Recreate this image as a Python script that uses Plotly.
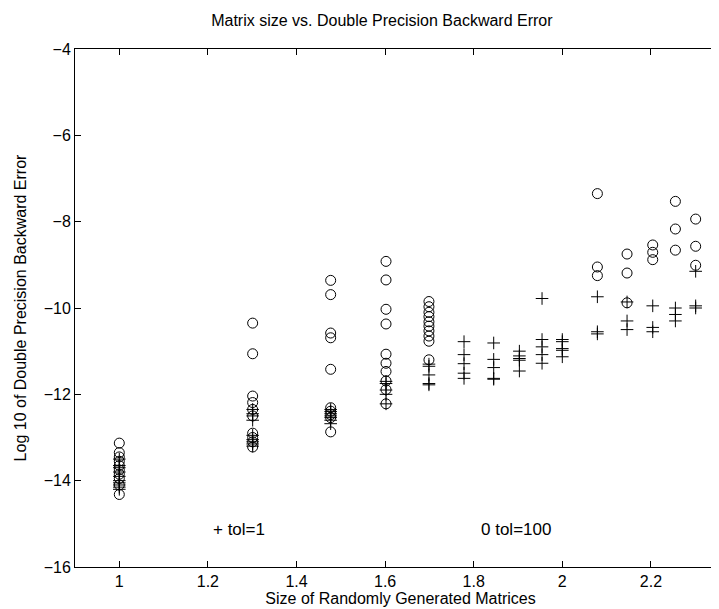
import plotly.graph_objects as go

# log10 of matrix sizes
x_sizes = [1.0, 1.30103, 1.47712, 1.60206, 1.69897, 1.77815, 1.84510, 1.90309,
           1.95424, 2.0, 2.07918, 2.14613, 2.20412, 2.25527, 2.30103]

# tol=100 (circles): log10 backward errors per size
circ_vals = {
    1.0: [-13.13, -13.35, -13.45, -13.55, -13.65, -13.75, -13.85, -13.95, -14.1, -14.32],
    1.30103: [-10.35, -11.06, -12.04, -12.19, -12.35, -12.5, -12.9, -13.0, -13.1, -13.22],
    1.47712: [-9.36, -9.69, -10.58, -10.69, -11.42, -12.31, -12.39, -12.47, -12.54, -12.87],
    1.60206: [-8.92, -9.35, -10.03, -10.37, -11.07, -11.28, -11.47, -11.69, -11.89, -12.22],
    1.69897: [-9.85, -9.97, -10.1, -10.2, -10.32, -10.42, -10.53, -10.65, -10.77, -11.2],
    2.07918: [-7.35, -9.05, -9.25],
    2.14613: [-8.75, -9.19, -9.88],
    2.20412: [-8.54, -8.71, -8.88],
    2.25527: [-7.53, -8.17, -8.66],
    2.30103: [-7.94, -8.57, -9.01],
}

# tol=1 (crosses)
cross_vals = {
    1.0: [-13.5, -13.65, -13.7, -13.8, -13.9, -14.0, -14.05, -14.1, -14.15, -14.2],
    1.30103: [-12.35, -12.45, -12.5, -12.6, -12.95, -13.05, -13.1, -13.15, -13.2],
    1.47712: [-12.35, -12.4, -12.45, -12.5, -12.54, -12.6, -12.68],
    1.60206: [-11.7, -11.75, -11.9, -12.0, -12.22],
    1.69897: [-11.3, -11.35, -11.55, -11.75, -11.78],
    1.77815: [-10.78, -11.08, -11.29, -11.51, -11.63],
    1.84510: [-10.81, -11.19, -11.38, -11.63, -11.65],
    1.90309: [-11.0, -11.11, -11.17, -11.21, -11.46],
    1.95424: [-9.78, -10.73, -10.9, -11.08, -11.28],
    2.0: [-10.73, -10.78, -10.94, -10.98, -11.13],
    2.07918: [-9.74, -10.55, -10.6],
    2.14613: [-9.86, -10.3, -10.5],
    2.20412: [-9.95, -10.45, -10.55],
    2.25527: [-10.0, -10.15, -10.3],
    2.30103: [-9.15, -9.95, -10.0],
}

x_ticks = [1, 1.2, 1.4, 1.6, 1.8, 2, 2.2]
x_tick_text = ["1", "1.2", "1.4", "1.6", "1.8", "2", "2.2"]
y_ticks = [-16, -14, -12, -10, -8, -6, -4]
y_tick_text = ["\u221216", "\u221214", "\u221212", "\u221210", "\u22128", "\u22126", "\u22124"]

cx, cy = [], []
for k, v in circ_vals.items():
    cx += [k] * len(v)
    cy += v
px, py = [], []
for k, v in cross_vals.items():
    px += [k] * len(v)
    py += v

FONT = "Liberation Sans, Arial, Helvetica, sans-serif"

fig = go.Figure()
fig.add_trace(go.Scatter(x=cx, y=cy, mode="markers", name="tol=100",
                         marker=dict(symbol="circle-open", size=10, color="black",
                                     line=dict(width=1, color="black"))))
fig.add_trace(go.Scatter(x=px, y=py, mode="markers", name="tol=1",
                         marker=dict(symbol="cross-thin-open", size=9, color="black",
                                     line=dict(width=1, color="black"))))

fig.add_annotation(x=1.27, y=-15.12, xref="x", yref="y", text="+ tol=1",
                   showarrow=False, font=dict(family=FONT, size=17, color="black"))
fig.add_annotation(x=1.895, y=-15.12, xref="x", yref="y", text="0 tol=100",
                   showarrow=False, font=dict(family=FONT, size=17, color="black"))

fig.update_layout(
    width=719, height=609,
    margin=dict(l=67, r=1, t=41, b=50),
    paper_bgcolor="white", plot_bgcolor="white",
    showlegend=False,
    font=dict(family=FONT, size=16, color="black"),
    title=dict(text="Matrix size vs. Double Precision Backward Error",
               x=0.52, xanchor="center", y=0.980, yanchor="middle",
               font=dict(family=FONT, size=16, color="black")),
    xaxis=dict(range=[0.9, 2.3695], tickvals=x_ticks, ticktext=x_tick_text,
               ticks="inside", ticklen=6, tickcolor="black", tickwidth=1,
               showline=True, linecolor="black", linewidth=1, mirror="ticks",
               showgrid=False, zeroline=False, automargin=False,
               tickfont=dict(family=FONT, size=16),
               title=dict(text="Size of Randomly Generated Matrices", standoff=0,
                          font=dict(family=FONT, size=16))),
    yaxis=dict(range=[-16, -4], tickvals=y_ticks, ticktext=y_tick_text,
               ticks="inside", ticklen=6, tickcolor="black", tickwidth=1,
               showline=True, linecolor="black", linewidth=1, mirror=False,
               showgrid=False, zeroline=False, automargin=False,
               tickfont=dict(family=FONT, size=16),
               title=dict(text="Log 10 of Double Precision Backward Error", standoff=13,
                          font=dict(family=FONT, size=16))),
)

fig.write_html("out.html")
